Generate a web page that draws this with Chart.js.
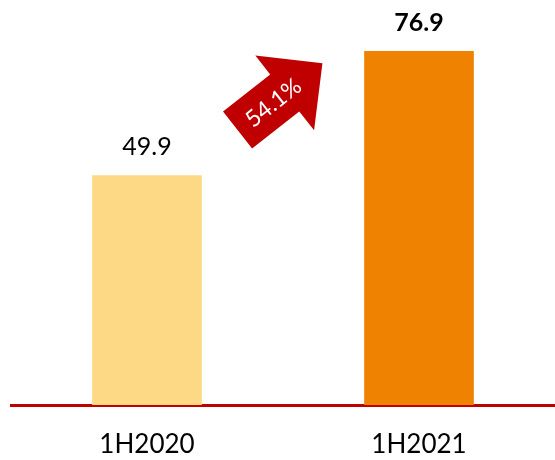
<!DOCTYPE html>
<html>
<head>
<meta charset="utf-8">
<script src="https://cdn.jsdelivr.net/npm/chart.js@4.4.1/dist/chart.umd.min.js"></script>
<style>
  html, body { margin: 0; padding: 0; background: #fff; }
  #wrap { width: 555px; height: 460px; position: relative; }
</style>
</head>
<body>
<div id="wrap"><canvas id="chart"></canvas></div>
<script>
const categories = ['1H2020', '1H2021'];
const values = [49.9, 76.9];
const barColors = ['#FED985', '#EF8200'];
const labelBold = [false, true];
const growthLabel = '54.1%';

const fontFamily = 'Lato, "Noto Sans", sans-serif';

// value labels above bars + the growth arrow
const overlayPlugin = {
    id: 'overlay',
    afterDatasetsDraw(chart) {
        const ctx = chart.ctx;
        const meta = chart.getDatasetMeta(0);
        ctx.save();
        ctx.fillStyle = '#000';
        ctx.textAlign = 'center';
        ctx.textBaseline = 'middle';
        meta.data.forEach((bar, i) => {
            ctx.font = (labelBold[i] ? 'bold ' : '') + '25px ' + fontFamily;
            ctx.fillText(values[i].toFixed(1), bar.x, bar.y - 28);
        });

        // arrow between the bars
        const xs = chart.scales.x;
        const ys = chart.scales.y;
        const cx = (xs.getPixelForValue(0) + xs.getPixelForValue(1)) / 2 - 3;
        const cy = ys.getPixelForValue(67);
        ctx.translate(cx, cy);
        ctx.rotate(-38.2 * Math.PI / 180);
        ctx.fillStyle = '#C00000';
        ctx.beginPath();
        ctx.moveTo(-54, -23.5);
        ctx.lineTo(6, -23.5);
        ctx.lineTo(6, -47.5);
        ctx.lineTo(54, 0);
        ctx.lineTo(6, 47.5);
        ctx.lineTo(6, 23.5);
        ctx.lineTo(-54, 23.5);
        ctx.closePath();
        ctx.fill();
        ctx.fillStyle = '#fff';
        ctx.font = '23px ' + fontFamily;
        ctx.fillText(growthLabel, -9, 1);
        ctx.restore();
    }
};

new Chart(document.getElementById('chart'), {
    type: 'bar',
    data: {
        labels: categories,
        datasets: [{
            data: values,
            backgroundColor: barColors,
            borderWidth: 0,
            categoryPercentage: 0.8,
            barPercentage: 0.504
        }]
    },
    options: {
        responsive: true,
        maintainAspectRatio: false,
        animation: false,
        layout: { padding: { left: 11, right: 0, top: 0, bottom: 0 } },
        plugins: {
            legend: { display: false },
            tooltip: { enabled: false }
        },
        scales: {
            x: {
                grid: { display: false, drawTicks: false },
                border: { display: true, color: '#C00000', width: 3 },
                ticks: {
                    color: '#000',
                    padding: 24,
                    font: { family: fontFamily, size: 26 }
                },
                afterFit(scale) {
                    scale.height = 55;
                }
            },
            y: {
                display: false,
                min: 0,
                max: 88
            }
        }
    },
    plugins: [overlayPlugin]
});
</script>
</body>
</html>
